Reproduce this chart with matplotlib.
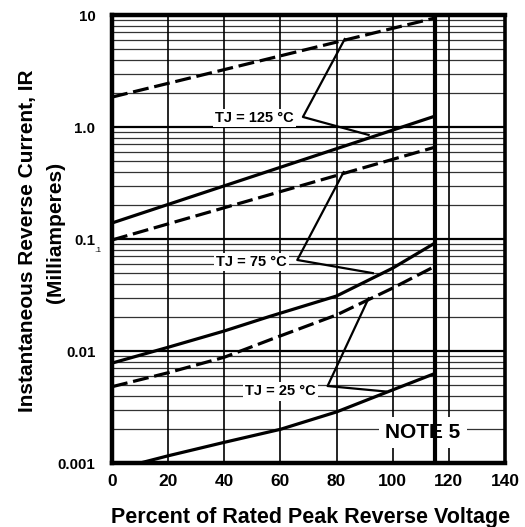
import numpy as np
import matplotlib
matplotlib.use("Agg")
import matplotlib.pyplot as plt
from matplotlib.ticker import FixedLocator, NullFormatter

plt.rcParams['font.family'] = ['Liberation Sans', 'DejaVu Sans']
plt.rcParams['font.weight'] = 'bold'

# curve data (percent of rated voltage, mA)
x_125_dash = [0, 115]
y_125_dash = [1.85, 9.4]
x_125_solid = [0, 115]
y_125_solid = [0.139, 1.25]

x_75_dash = [0, 115]
y_75_dash = [0.098, 0.66]
x_75_solid = [0, 20, 40, 56, 80, 100, 115]
y_75_solid = [0.0078, 0.0108, 0.0151, 0.0203, 0.031, 0.055, 0.092]

x_25_dash = [0, 20, 40, 57, 80, 100, 115]
y_25_dash = [0.0048, 0.0064, 0.0088, 0.0128, 0.021, 0.0365, 0.057]
x_25_solid = [10, 20, 40, 60, 80, 100, 115]
y_25_solid = [0.001, 0.00116, 0.00153, 0.002, 0.00286, 0.0045, 0.0063]

# pointer polylines from each label to its pair of curves
ptr_125_x = [82.9, 68.0, 91.4]
ptr_125_y = [6.1, 1.23, 0.85]
ptr_75_x = [82.5, 66.0, 92.9]
ptr_75_y = [0.396, 0.065, 0.0496]
ptr_25_x = [91.4, 76.8, 97.5]
ptr_25_y = [0.0296, 0.00487, 0.00435]

labels = ["TJ = 125 °C", "TJ = 75 °C", "TJ = 25 °C"]
label_x = [50.7, 49.8, 60.0]
label_y = [1.2, 0.0622, 0.00436]

x_ticks = [0, 20, 40, 60, 80, 100, 120, 140]
y_ticks = [0.001, 0.01, 0.1, 1.0, 10]
y_ticklabels = ["0.001", "0.01", "0.1", "1.0", "10"]
limit_x = 115

fig = plt.figure(figsize=(5.25, 5.27), dpi=100)
ax = fig.add_axes([0.2133, 0.1214, 0.7487, 0.8501])
ax.set_yscale('log')
ax.set_xlim(0, 140)
ax.set_ylim(0.001, 10)

# grid: log minor lines, decade lines heavier, verticals every 20
minors = [m * 10.0 ** d for d in range(-3, 1) for m in range(2, 10)]
for v in minors:
    ax.axhline(v, color='0.2', lw=0.9, zorder=1)
for v in y_ticks[1:-1]:
    ax.axhline(v, color='black', lw=1.6, zorder=1)
for v in x_ticks[1:-1]:
    ax.axvline(v, color='black', lw=1.2, zorder=1)
ax.axvline(limit_x, color='black', lw=3.0, zorder=4)

dash = (0, (5, 1.8))
lw = 2.3
ax.plot(x_125_dash, y_125_dash, color='black', lw=lw, ls=dash, zorder=3)
ax.plot(x_125_solid, y_125_solid, color='black', lw=lw, zorder=3)
ax.plot(x_75_dash, y_75_dash, color='black', lw=lw, ls=dash, zorder=3)
ax.plot(x_75_solid, y_75_solid, color='black', lw=lw, zorder=3)
ax.plot(x_25_dash, y_25_dash, color='black', lw=lw, ls=dash, zorder=3)
ax.plot(x_25_solid, y_25_solid, color='black', lw=lw, zorder=3)

for px, py in [(ptr_125_x, ptr_125_y), (ptr_75_x, ptr_75_y), (ptr_25_x, ptr_25_y)]:
    ax.plot(px, py, color='black', lw=1.6, zorder=3)

for t, lx, ly in zip(labels, label_x, label_y):
    ax.text(lx, ly, t, fontsize=10.5, fontweight='bold', ha='center', va='center', zorder=2,
            bbox=dict(boxstyle='square,pad=0.15', fc='white', ec='none'))

ax.text(110.7, 0.00188, "NOTE 5", fontsize=15, fontweight='bold', ha='center', va='center',
        zorder=2, bbox=dict(boxstyle='square,pad=0.3', fc='white', ec='none'))

ax.set_xticks(x_ticks)
ax.set_xticklabels([str(v) for v in x_ticks], fontsize=12.5, fontweight='bold')
ax.yaxis.set_major_locator(FixedLocator(y_ticks))
ax.yaxis.set_minor_formatter(NullFormatter())
ax.set_yticklabels(y_ticklabels, fontsize=10.8, fontweight='bold')
ax.tick_params(axis='both', which='both', length=0)
ax.tick_params(axis='x', pad=8)
ax.tick_params(axis='y', pad=12)

for side in ['left', 'bottom', 'top']:
    ax.spines[side].set_linewidth(3.2)
ax.spines['right'].set_linewidth(2.6)

fig.text(311 / 525, 1 - 517 / 527, "Percent of Rated Peak Reverse Voltage",
         fontsize=15.5, fontweight='bold', ha='center', va='center')
fig.text(28 / 525, 1 - 241 / 527, "Instantaneous Reverse Current, IR",
         fontsize=15, fontweight='bold', ha='center', va='center', rotation=90)
fig.text(55 / 525, 1 - 232 / 527, "(Milliamperes)",
         fontsize=15, fontweight='bold', ha='center', va='center', rotation=90)

fig.text(98 / 525, 1 - 250 / 527, ".1", fontsize=6, fontweight='normal', ha='center', va='center')

fig.savefig("out.png", dpi=100)
